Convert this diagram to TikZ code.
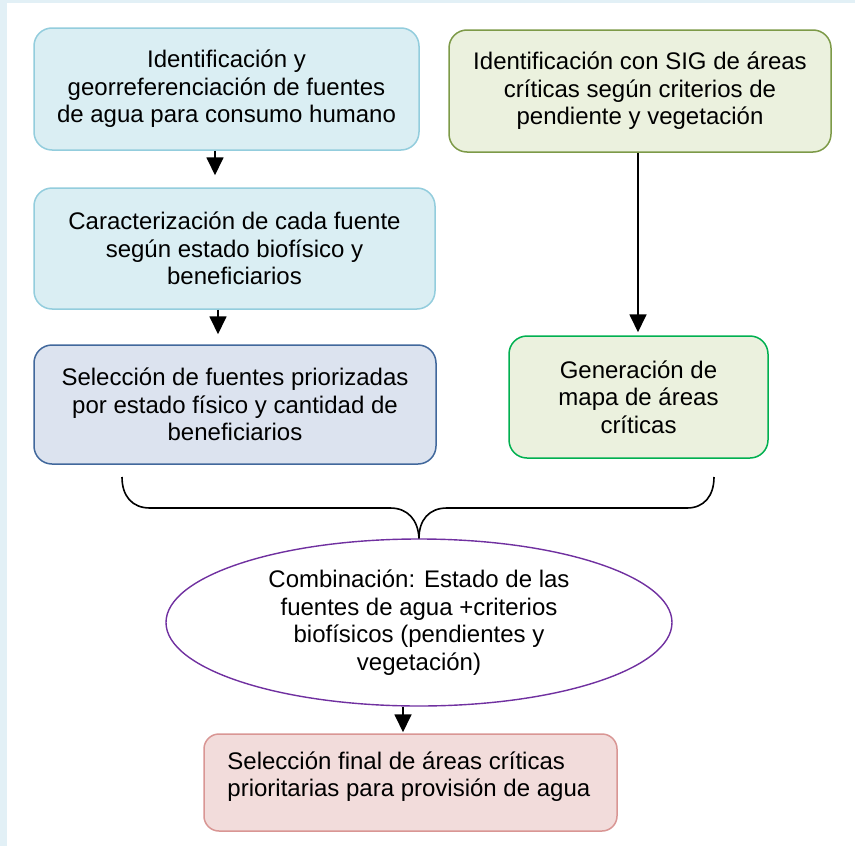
\documentclass[tikz,border=0pt]{standalone}
\usepackage{fontspec}
\setmainfont{Liberation Sans}
\usetikzlibrary{arrows.meta,shapes.geometric,calc}
\definecolor{bgblue}{HTML}{E2F0F6}
\definecolor{cyanfill}{HTML}{DAEEF3}
\definecolor{cyanline}{HTML}{93CDDD}
\definecolor{bluefill}{HTML}{DCE3EF}
\definecolor{blueline}{HTML}{41689C}
\definecolor{olivefill}{HTML}{EBF1DE}
\definecolor{oliveline}{HTML}{7D9A48}
\definecolor{greenline}{HTML}{00B050}
\definecolor{purpleline}{HTML}{7030A0}
\definecolor{pinkfill}{HTML}{F2DCDB}
\definecolor{pinkline}{HTML}{D99694}
\tikzset{
  box/.style={draw, line width=1.5pt, rounded corners=18pt, inner sep=0pt, align=center,
    font=\fontsize{24}{27.5}\selectfont},
  txt/.style={inner sep=0pt, align=left, font=\fontsize{24}{27}\selectfont},
  arr/.style={line width=1.8pt, -{Triangle[width=17pt,length=18pt]}},
  brace/.style={line width=1.6pt}
}
\begin{document}
\begin{tikzpicture}[x=1pt,y=1pt]
\fill[bgblue] (0,0) rectangle (855,-846);
\fill[white] (7,-3) rectangle (855,-846);
\useasboundingbox (0,0) rectangle (855,-846);

\node[box, fill=cyanfill, draw=cyanline, minimum width=385pt, minimum height=122pt] (A) at (226.5,-89)
  {Identificación y\\georreferenciación de fuentes\\de agua para consumo humano};
\node[box, fill=cyanfill, draw=cyanline, minimum width=401pt, minimum height=121pt] (B) at (234.5,-248.5)
  {Caracterización de cada fuente\\según estado biofísico y\\beneficiarios};
\node[box, fill=bluefill, draw=blueline, minimum width=402pt, minimum height=119pt] (C) at (235,-404.5)
  {Selección de fuentes priorizadas\\por estado físico y cantidad de\\beneficiarios};
\node[box, fill=olivefill, draw=oliveline, minimum width=382pt, minimum height=122pt] (D) at (640,-91)
  {Identificación con SIG de áreas\\críticas según criterios de\\pendiente y vegetación};
\node[box, fill=olivefill, draw=greenline, minimum width=259pt, minimum height=122pt] (E) at (638.5,-397)
  {Generación de\\mapa de áreas\\críticas};
\node[box, ellipse, fill=white, draw=purpleline, line width=1.4pt, minimum width=506pt, minimum height=167pt] (G) at (419,-622.5)
  {Combinación: Estado de las\\fuentes de agua +criterios\\biofísicos (pendientes y\\vegetación)};
\node[box, rounded corners=15pt, fill=pinkfill, draw=pinkline, minimum width=413pt, minimum height=97pt] (F) at (410.5,-782.5) {};
\node[txt, anchor=north west] (Ft) at ([shift={(24pt,-18pt)}]F.north west)
  {Selección final de áreas críticas\\prioritarias para provisión de agua};

\draw[arr, shorten >=12pt] ([xshift=-11.5pt]A.south) -- ([xshift=-19.5pt]B.north);
\draw[arr, shorten >=10pt] ([xshift=-16.5pt]B.south) -- ([xshift=-17pt]C.north);
\draw[arr, shorten >=3pt] ([xshift=-2pt]D.south) -- ([xshift=-0.5pt]E.north);
\draw[arr, shorten >=1pt] ([xshift=-16pt]G.south) -- ([xshift=-7.5pt]F.north);

\coordinate (tip) at (G.north);
\coordinate (bl) at (122,-477);
\coordinate (br) at (714,-477);
\draw[brace] (bl) .. controls (122,-496) and (132,-508) .. (150,-508) -- (390,-508)
  .. controls (408,-508) and (418,-520) .. (tip);
\draw[brace] (br) .. controls (714,-496) and (704,-508) .. (687,-508) -- (447,-508)
  .. controls (429,-508) and (419,-520) .. (tip);
\end{tikzpicture}
\end{document}
